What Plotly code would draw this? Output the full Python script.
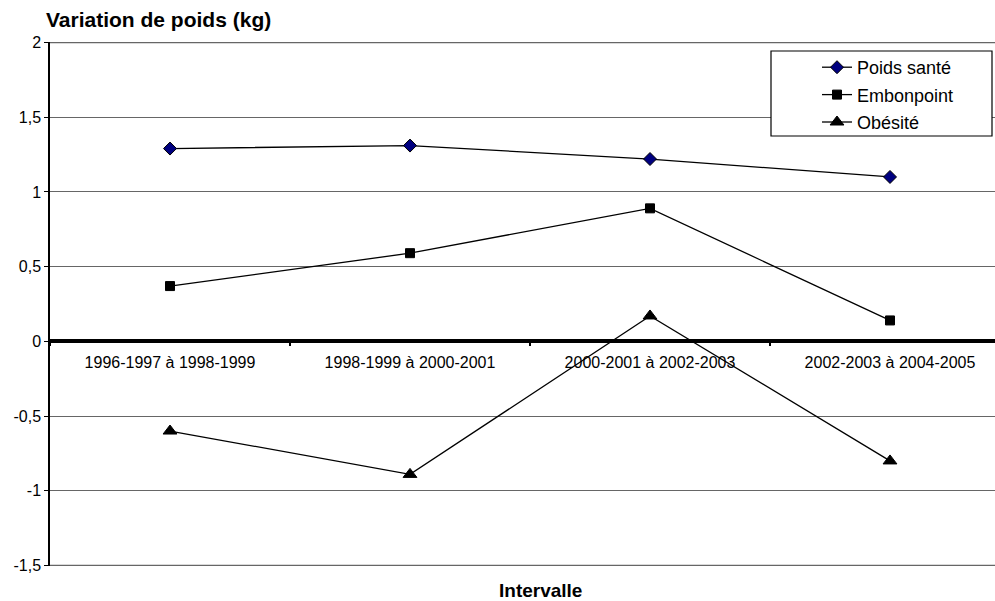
import plotly.graph_objects as go

# Intervals on the horizontal axis
intervals = [
    "1996-1997 à 1998-1999",
    "1998-1999 à 2000-2001",
    "2000-2001 à 2002-2003",
    "2002-2003 à 2004-2005",
]

# Weight change (kg) per weight category
poids_sante = [1.29, 1.31, 1.22, 1.10]
embonpoint = [0.37, 0.59, 0.89, 0.14]
obesite = [-0.60, -0.89, 0.17, -0.80]

# Y-axis ticks (French decimal comma)
y_ticks = [-1.5, -1.0, -0.5, 0.0, 0.5, 1.0, 1.5, 2.0]
y_tick_text = ["-1,5", "-1", "-0,5", "0", "0,5", "1", "1,5", "2"]

FONT = "Liberation Sans, Arial, Helvetica, sans-serif"

W, H = 995, 601
L, R, T, B = 50, 0, 42, 35
plot_w = W - L - R
plot_h = H - T - B


def px_x(px):
    return (px - L) / plot_w


def px_y(py):
    return (H - B - py) / plot_h


series = [
    ("Poids santé", poids_sante, "diamond", "#000080", 10),
    ("Embonpoint", embonpoint, "square", "#000000", 9),
    ("Obésité", obesite, "triangle-up", "#000000", 12),
]

fig = go.Figure()
for i, (name, vals, sym, fill, size) in enumerate(series):
    fig.add_trace(go.Scatter(
        x=intervals, y=vals, name=name, mode="lines+markers",
        legendgroup=f"g{i}",
        line=dict(color="#000000", width=1.3),
        marker=dict(symbol=sym, size=size, color=fill,
                    line=dict(color="#000000", width=1)),
        cliponaxis=False,
    ))

y_min, y_max = -1.5, 2.0
zero_pos = (0 - y_min) / (y_max - y_min)
pad = 0.003

# Frame lines at the top and bottom of the value range
edge_lines = [
    dict(type="line", xref="paper", yref="y", x0=0, x1=1, y0=v, y1=v,
         line=dict(color="#666666", width=1.5), layer="below")
    for v in (y_min, y_max)
]

fig.update_layout(
    width=W, height=H,
    margin=dict(l=L, r=R, t=T, b=B, pad=0),
    paper_bgcolor="white", plot_bgcolor="white",
    font=dict(family=FONT, size=16, color="#000000"),
    title=dict(text="<b>Variation de poids (kg)</b>", x=46 / W, xanchor="left",
               xref="container", y=1 - 20 / H, yref="container", yanchor="middle",
               font=dict(size=21, family=FONT, color="#000000")),
    xaxis=dict(
        type="category", categoryorder="array", categoryarray=intervals,
        range=[-0.5, -0.5 + plot_w / 240.0],
        anchor="free", position=zero_pos,
        showline=True, linecolor="#000000", linewidth=4,
        ticks="outside", ticklen=3, tickwidth=2, tickcolor="#000000",
        tickson="boundaries", showgrid=False, zeroline=False,
        tickfont=dict(size=16, family=FONT, color="#000000"),
        ticklabelstandoff=5,
    ),
    yaxis=dict(
        range=[y_min - pad, y_max + pad], tickvals=y_ticks, ticktext=y_tick_text,
        showline=True, linecolor="#000000", linewidth=1.5,
        ticks="outside", ticklen=4, tickcolor="#000000",
        showgrid=True, gridcolor="#666666", gridwidth=1.2,
        zeroline=False,
        tickfont=dict(size=16, family=FONT, color="#000000"),
    ),
    showlegend=True,
    legend=dict(
        x=px_x(817), y=px_y(49), xanchor="left", yanchor="top",
        bgcolor="rgba(0,0,0,0)", borderwidth=0,
        font=dict(size=18, family=FONT, color="#000000"),
        tracegroupgap=1, traceorder="grouped",
    ),
    shapes=edge_lines + [dict(
        type="rect", xref="paper", yref="paper",
        x0=px_x(771), x1=px_x(992), y0=px_y(136), y1=px_y(51),
        line=dict(color="#000000", width=1.2), fillcolor="white",
        layer="above",
    )],
    annotations=[dict(
        text="<b>Intervalle</b>", xref="paper", yref="paper",
        x=px_x(540), y=px_y(590), xanchor="center", yanchor="middle",
        showarrow=False, font=dict(size=19, family=FONT, color="#000000"),
    )],
)

fig.write_html("out.html")
